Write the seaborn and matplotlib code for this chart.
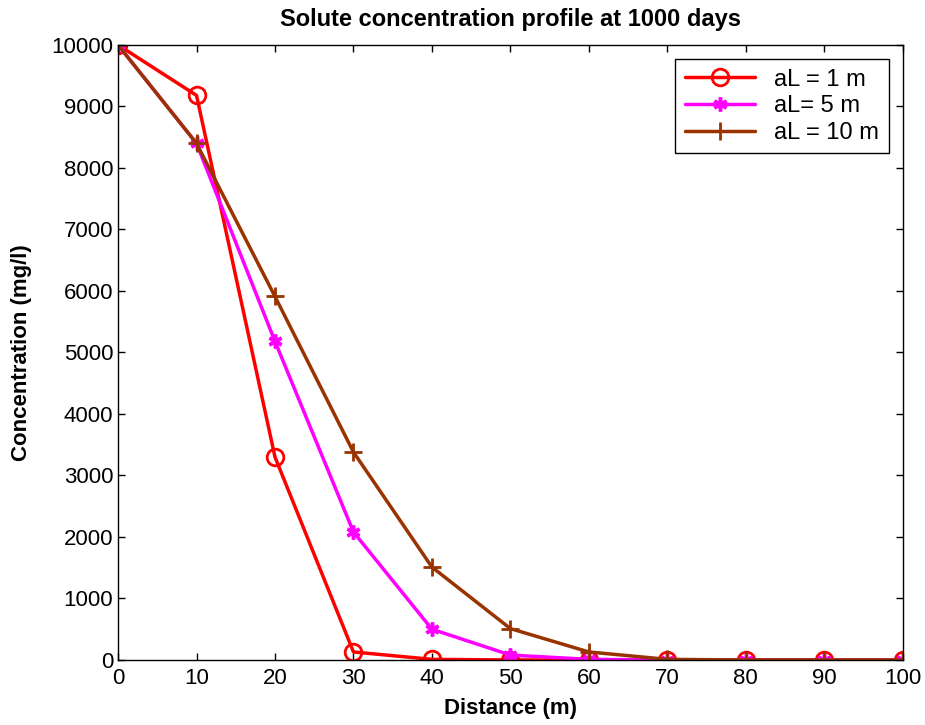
import pandas as pd
import matplotlib.pyplot as plt
import seaborn as sns

# --- dados ---
distancia = [0, 10, 20, 30, 40, 50, 60, 70, 80, 90, 100]
conc_al1 = [10000, 9180, 3300, 130, 10, 0, 0, 0, 0, 0, 0]
conc_al5 = [10000, 8400, 5180, 2080, 500, 80, 10, 0, 0, 0, 0]
conc_al10 = [10000, 8400, 5910, 3380, 1510, 510, 130, 10, 0, 0, 0]
rotulos = ['aL = 1 m', 'aL= 5 m', 'aL = 10 m']

df = pd.DataFrame({
    'Distancia': distancia * 3,
    'Conc': conc_al1 + conc_al5 + conc_al10,
    'Serie': [r for r in rotulos for _ in distancia],
})

sns.set_style('ticks')
plt.rcParams['font.family'] = ['Liberation Sans', 'DejaVu Sans']
for chave in ['text.color', 'axes.labelcolor', 'xtick.color', 'ytick.color', 'axes.edgecolor']:
    plt.rcParams[chave] = 'black'

fig = plt.figure(figsize=(9.25, 7.25), dpi=100)
ax = fig.add_axes([0.1276, 0.0897, 0.8484, 0.8483])

estilos = {
    'aL = 1 m': dict(color='#ff0000', marker='o', mfc='none', mec='#ff0000', ms=12, mew=2),
    'aL= 5 m': dict(color='#ff00ff', marker=(6, 2, 0), mfc='#ff00ff', mec='#ff00ff', ms=10, mew=2.5),
    'aL = 10 m': dict(color='#993300', marker='+', mfc='#993300', mec='#993300', ms=13, mew=2),
}
for serie in rotulos:
    sub = df[df['Serie'] == serie]
    sns.lineplot(data=sub, x='Distancia', y='Conc', ax=ax, label=serie,
                 lw=2.5, **estilos[serie])

ax.set_xlim(0, 100)
ax.set_ylim(0, 10000)
ax.set_xticks(range(0, 101, 10))
ax.set_yticks(range(0, 10001, 1000))
ax.tick_params(direction='in', top=True, right=True, labelsize=16, length=5, width=1)
ax.tick_params(axis='x', pad=6)
for s in ax.spines.values():
    s.set_visible(True)
    s.set_linewidth(1)
    s.set_color('black')

ax.set_title('Solute concentration profile at 1000 days', fontsize=17, fontweight='bold', pad=14)
ax.set_xlabel('Distance (m)', fontsize=16, fontweight='bold', labelpad=6)
ax.set_ylabel('Concentration (mg/l)', fontsize=16, fontweight='bold', labelpad=14)

leg = ax.legend(loc='upper right', fontsize=17, frameon=True, fancybox=False,
                edgecolor='black', handlelength=3, borderaxespad=0.6,
                labelspacing=0.2, framealpha=1)
leg.get_frame().set_linewidth(1)

fig.savefig('out.png', dpi=100)
